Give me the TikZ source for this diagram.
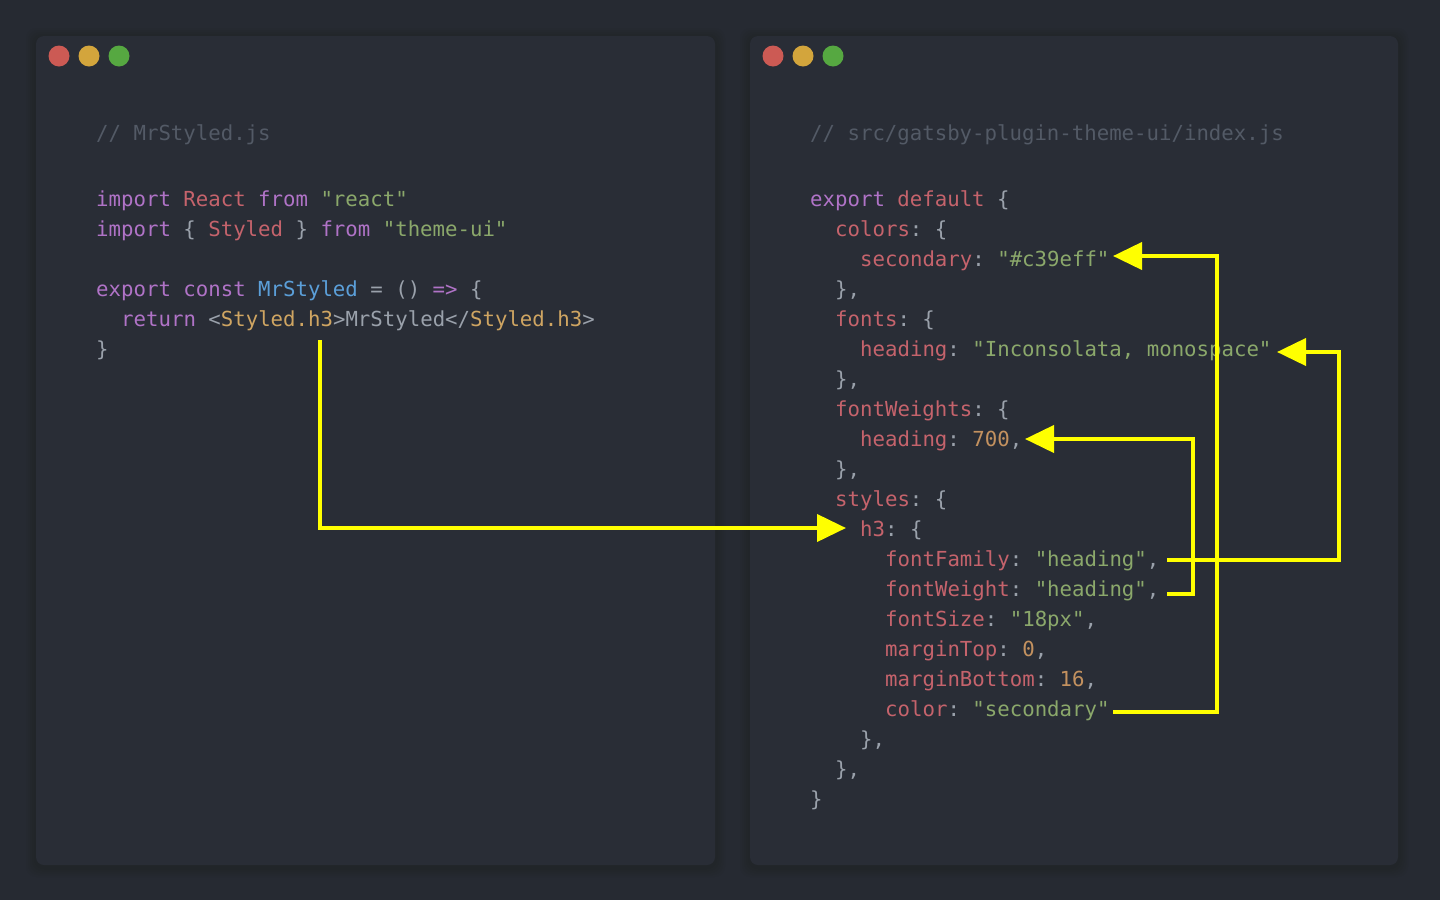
\documentclass[tikz,border=0pt]{standalone}
\usepackage{fontspec}
\setmonofont{DejaVu Sans Mono}
\usetikzlibrary{arrows.meta}
\definecolor{bg}{HTML}{262A32}
\definecolor{winbg}{HTML}{292D36}
\definecolor{kw}{HTML}{B073C7}
\definecolor{rd}{HTML}{C5636C}
\definecolor{gr}{HTML}{8BA86B}
\definecolor{yl}{HTML}{CFA562}
\definecolor{bl}{HTML}{5B9FD9}
\definecolor{nm}{HTML}{C3915F}
\definecolor{pn}{HTML}{9AA1AB}
\definecolor{cm}{HTML}{535A66}
\definecolor{hl}{HTML}{FFFF00}
\definecolor{tlred}{HTML}{CC5A54}
\definecolor{tlyel}{HTML}{D3A53C}
\definecolor{tlgrn}{HTML}{56A841}
\newcommand\ckw[1]{\textcolor{kw}{#1}}
\newcommand\crd[1]{\textcolor{rd}{#1}}
\newcommand\cgr[1]{\textcolor{gr}{#1}}
\newcommand\cyl[1]{\textcolor{yl}{#1}}
\newcommand\cbl[1]{\textcolor{bl}{#1}}
\newcommand\cnm[1]{\textcolor{nm}{#1}}
\newcommand\ccm[1]{\textcolor{cm}{#1}}
\begin{document}
\begin{tikzpicture}[x=1pt,y=-1pt,
  code/.style={anchor=base west, inner sep=0pt, text=pn,
    font=\ttfamily\fontsize{20.7}{24}\selectfont},
  arr/.style={draw=hl, line width=4pt, line join=miter,
    -{Triangle[length=29pt,width=27pt]}},
  win/.style={fill=winbg, rounded corners=8pt},
  shadowbox/.style={fill=black, fill opacity=0.025, rounded corners=10pt},
  light/.style={circle, minimum size=21pt, inner sep=0pt}]
\useasboundingbox (0,0) rectangle (1440,900);
\fill[bg] (0,0) rectangle (1440,900);

% windows with soft shadow
\foreach \d in {2,4,6,8,10}{
  \fill[shadowbox] (36-\d,36-\d+2) rectangle (715+\d,865+\d+2);
  \fill[shadowbox] (750-\d,36-\d+2) rectangle (1398+\d,865+\d+2);
}
\fill[win] (36,36) rectangle (715,865);
\fill[win] (750,36) rectangle (1398,865);

% traffic lights
\node[light, fill=tlred] (lr) at (59,56) {};
\node[light, fill=tlyel] (ly) at (89,56) {};
\node[light, fill=tlgrn] (lg) at (119,56) {};
\node[light, fill=tlred] (rr) at (773,56) {};
\node[light, fill=tlyel] (ry) at (803,56) {};
\node[light, fill=tlgrn] (rg) at (833,56) {};

% left code
\node[code] (L0) at (96,140) {\ccm{// MrStyled.js}};
\node[code] (L1) at (96,206) {\ckw{import} \crd{React} \ckw{from} \cgr{"react"}};
\node[code] (L2) at (96,236) {\ckw{import} \{ \crd{Styled} \} \ckw{from} \cgr{"theme-ui"}};
\node[code] (L3) at (96,296) {\ckw{export} \ckw{const} \cbl{MrStyled} = () \ckw{=>} \{};
\node[code] (L4) at (121,326) {\ckw{return} <\cyl{Styled.h3}>MrStyled</\cyl{Styled.h3}>};
\node[code] (L5) at (96,356) {\}};

% right code
\node[code] (R0) at (810,140) {\ccm{// src/gatsby-plugin-theme-ui/index.js}};
\node[code] (R1) at (810,206) {\ckw{export} \crd{default} \{};
\node[code] (R2) at (835,236) {\crd{colors}: \{};
\node[code] (R3) at (860,266) {\crd{secondary}: \cgr{"\#c39eff"}};
\node[code] (R4) at (835,296) {\},};
\node[code] (R5) at (835,326) {\crd{fonts}: \{};
\node[code] (R6) at (860,356) {\crd{heading}: \cgr{"Inconsolata, monospace"}};
\node[code] (R7) at (835,386) {\},};
\node[code] (R8) at (835,416) {\crd{fontWeights}: \{};
\node[code] (R9) at (860,446) {\crd{heading}: \cnm{700},};
\node[code] (R10) at (835,476) {\},};
\node[code] (R11) at (835,506) {\crd{styles}: \{};
\node[code] (R12) at (860,536) {\crd{h3}: \{};
\node[code] (R13) at (885,566) {\crd{fontFamily}: \cgr{"heading"},};
\node[code] (R14) at (885,596) {\crd{fontWeight}: \cgr{"heading"},};
\node[code] (R15) at (885,626) {\crd{fontSize}: \cgr{"18px"},};
\node[code] (R16) at (885,656) {\crd{marginTop}: \cnm{0},};
\node[code] (R17) at (885,686) {\crd{marginBottom}: \cnm{16},};
\node[code] (R18) at (885,716) {\crd{color}: \cgr{"secondary"}};
\node[code] (R19) at (860,746) {\},};
\node[code] (R20) at (835,776) {\},};
\node[code] (R21) at (810,806) {\}};

% connector end points
\coordinate (a1s) at (320,340);
\coordinate (a1e) at (846,528);
\coordinate (a2s) at (1167,560);
\coordinate (a2c) at (1339,352);
\coordinate (a2e) at (1277,352);
\coordinate (a3s) at (1167,594);
\coordinate (a3c) at (1193,439);
\coordinate (a3e) at (1025,439);
\coordinate (a4s) at (1113,712);
\coordinate (a4c) at (1217,256);
\coordinate (a4e) at (1113,256);

\draw[arr] (a1s) |- (a1e);
\draw[arr] (a2s) -| (a2c) -- (a2e);
\draw[arr] (a3s) -| (a3c) -- (a3e);
\draw[arr] (a4s) -| (a4c) -- (a4e);
\end{tikzpicture}
\end{document}
